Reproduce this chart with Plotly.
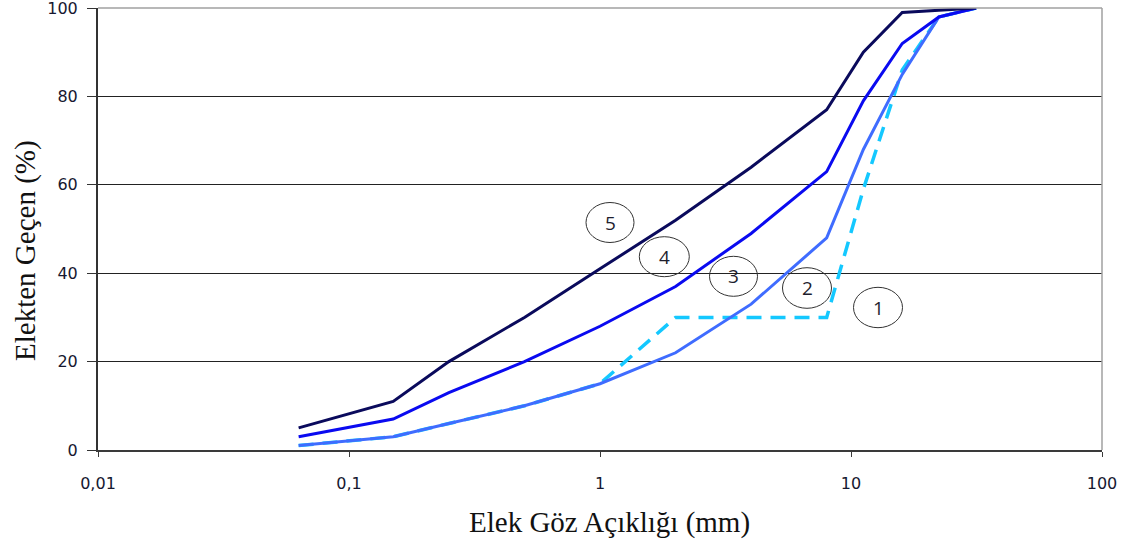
import plotly.graph_objects as go

# Sieve openings (mm)
sieve_mm = [0.063, 0.15, 0.25, 0.5, 1, 2, 4, 8, 11.2, 16, 22.4, 31.5]

# Percent passing for each grading curve
curve1 = [1, 3, 6, 10, 15, 30, 30, 30, 59, 86, 98, 100]
curve2 = [1, 3, 6, 10, 15, 22, 33, 48, 68, 85, 98, 100]
curve4 = [3, 7, 13, 20, 28, 37, 49, 63, 79, 92, 98, 100]
curve5 = [5, 11, 20, 30, 41, 52, 64, 77, 90, 99, 99.5, 100]

x_ticks = [0.01, 0.1, 1, 10, 100]
x_ticktext = ["0,01", "0,1", "1", "10", "100"]
y_ticks = [0, 20, 40, 60, 80, 100]

curve_labels = ["5", "4", "3", "2", "1"]
# label centres and ellipse sizes in pixels
label_px = [(610, 222.5, 48, 40), (664.3, 256.7, 50, 40), (733.5, 276.3, 48, 40),
            (807, 288, 49, 40.6), (878, 307.5, 49, 40.4)]

W, H = 1141, 547
ML, MR, MT, MB = 98, 39, 8, 97
PW, PH = W - ML - MR, H - MT - MB


def px_to_paper(px, py):
    return (px - ML) / PW, (H - MB - py) / PH


fig = go.Figure()
fig.add_trace(go.Scatter(x=sieve_mm, y=curve1, mode="lines",
                         line=dict(color="#14c8ff", width=3.5, dash="15px,9px"),
                         showlegend=False))
fig.add_trace(go.Scatter(x=sieve_mm, y=curve2, mode="lines",
                         line=dict(color="#3f6cff", width=3), showlegend=False))
fig.add_trace(go.Scatter(x=sieve_mm, y=curve4, mode="lines",
                         line=dict(color="#0a0af0", width=3), showlegend=False))
fig.add_trace(go.Scatter(x=sieve_mm, y=curve5, mode="lines",
                         line=dict(color="#0a0a5c", width=3), showlegend=False))

shapes = []
annotations = []
for text, (cx, cy, w, h) in zip(curve_labels, label_px):
    x0, y0 = px_to_paper(cx - w / 2, cy + h / 2)
    x1, y1 = px_to_paper(cx + w / 2, cy - h / 2)
    shapes.append(dict(type="circle", xref="paper", yref="paper",
                       x0=x0, y0=y0, x1=x1, y1=y1,
                       line=dict(color="#333333", width=1), fillcolor="rgba(0,0,0,0)"))
    ax, ay = px_to_paper(cx, cy)
    annotations.append(dict(text=text, xref="paper", yref="paper", x=ax, y=ay,
                            showarrow=False, xanchor="center", yanchor="middle",
                            font=dict(family="Open Sans", size=19, color="#1e1e2e")))

# frame: top and right edges in light grey
shapes.append(dict(type="line", xref="paper", yref="paper", x0=0, x1=1, y0=1, y1=1,
                   line=dict(color="#a0a0a0", width=1.5)))
shapes.append(dict(type="line", xref="paper", yref="paper", x0=1, x1=1, y0=0, y1=1,
                   line=dict(color="#a0a0a0", width=1.5)))

tx, ty = px_to_paper(25, 251)
annotations.append(dict(text="Elekten Geçen (%)", xref="paper", yref="paper", x=tx, y=ty,
                        showarrow=False, textangle=-90, xanchor="center", yanchor="middle",
                        font=dict(family="Liberation Serif", size=29, color="#111")))
tx, ty = px_to_paper(609, 522)
annotations.append(dict(text="Elek Göz Açıklığı (mm)", xref="paper", yref="paper", x=tx, y=ty,
                        showarrow=False, xanchor="center", yanchor="middle",
                        font=dict(family="Liberation Serif", size=29, color="#111")))

fig.update_layout(
    width=W, height=H,
    margin=dict(l=ML, r=MR, t=MT, b=MB),
    paper_bgcolor="white", plot_bgcolor="white",
    shapes=shapes, annotations=annotations,
    separators=",.",
)
fig.update_xaxes(type="log", range=[-2, 2], tickvals=x_ticks, ticktext=x_ticktext,
                 showgrid=False, zeroline=False, showline=True, linecolor="#3a3a3a",
                 linewidth=1.5, ticks="outside", ticklen=5, tickcolor="#3a3a3a",
                 ticklabelstandoff=13, ticklabeloverflow="allow", automargin=False,
                 tickfont=dict(family="DejaVu Sans", size=16, color="#161830"))
fig.update_yaxes(range=[0, 100.02], tickvals=y_ticks, showgrid=True, gridcolor="#222222",
                 gridwidth=1, zeroline=False, showline=True, linecolor="#333333",
                 linewidth=2, ticks="outside", ticklen=9, tickcolor="#333333",
                 ticklabelstandoff=6, ticklabeloverflow="allow", automargin=False,
                 tickfont=dict(family="DejaVu Sans", size=16, color="#161830"))

fig.write_html("out.html")
